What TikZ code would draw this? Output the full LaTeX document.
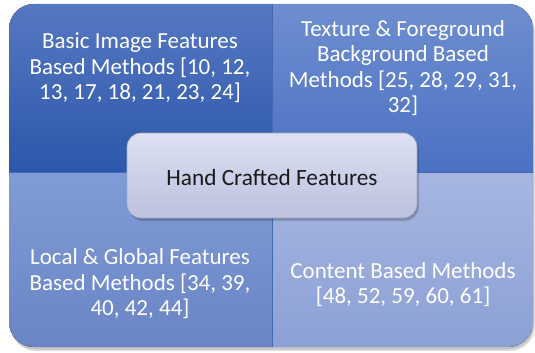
\documentclass[tikz,border=0pt]{standalone}
\usepackage{fontspec}
\setmainfont{Carlito}
\usetikzlibrary{shadows,calc}
\definecolor{tlTop}{HTML}{5678C2}
\definecolor{tlBot}{HTML}{2C57AA}
\definecolor{trTop}{HTML}{6E8ED0}
\definecolor{trBot}{HTML}{4B71C2}
\definecolor{blTop}{HTML}{809CD6}
\definecolor{blBot}{HTML}{6A84C5}
\definecolor{brTop}{HTML}{A6B6E1}
\definecolor{brBot}{HTML}{8CA0D4}
\definecolor{divline}{HTML}{4468B5}
\definecolor{ctrTop}{HTML}{DDE1F2}
\definecolor{ctrBot}{HTML}{BCC1DD}
\definecolor{ctrEdge}{HTML}{A3A8C6}
\definecolor{ctrText}{HTML}{1A1A1A}
\tikzset{
  quadtext/.style={text=white, align=center, font=\fontsize{23}{25.5}\selectfont, inner sep=0pt},
  centertext/.style={text=ctrText, font=\fontsize{23.3}{25}\selectfont, inner sep=0pt}
}
\begin{document}
\begin{tikzpicture}[x=1pt,y=-1pt]
\useasboundingbox (0,0) rectangle (535,353);
% outer shadow
\fill[black,opacity=0.12,rounded corners=25] (11,7) rectangle (535,351);
\fill[black,opacity=0.12,rounded corners=25] (10,6) rectangle (534,349.5);
\begin{scope}
  \clip[rounded corners=25] (9,4) rectangle (533,347);
  \fill[top color=tlTop,bottom color=tlBot] (9,4) rectangle (272,172);
  \fill[top color=trTop,bottom color=trBot] (272,4) rectangle (533,172);
  \fill[top color=blTop,bottom color=blBot] (9,172) rectangle (272,347);
  \fill[top color=brTop,bottom color=brBot] (272,172) rectangle (533,347);
  \coordinate (vtop) at (272,4);
  \coordinate (vbot) at (272,347);
  \coordinate (hl) at (9,172);
  \coordinate (hr) at (533,172);
  \draw[divline,line width=0.8pt] (vtop) -- (vbot);
  \draw[divline,line width=0.8pt] (hl) -- (hr);
\end{scope}
% center box
\fill[black,opacity=0.15,rounded corners=14] (129,136) rectangle (419,221);
\fill[black,opacity=0.12,rounded corners=14] (128,135) rectangle (418,219.5);
\path[top color=ctrTop,bottom color=ctrBot,draw=ctrEdge,line width=0.6pt,rounded corners=14] (127,133) rectangle (417,218);
\node[centertext] (center) at (272,177) {Hand Crafted Features};
\node[quadtext] (tl) at (140,68) {Basic Image Features\\Based Methods [10, 12,\\13, 17, 18, 21, 23, 24]};
\node[quadtext] (tr) at (403,68) {Texture \& Foreground\\Background Based\\Methods [25, 28, 29, 31,\\32]};
\node[quadtext] (bl) at (140,284) {Local \& Global Features\\Based Methods [34, 39,\\40, 42, 44]};
\node[quadtext] (br) at (403,284.5) {Content Based Methods\\{}[48, 52, 59, 60, 61]};
\end{tikzpicture}
\end{document}
